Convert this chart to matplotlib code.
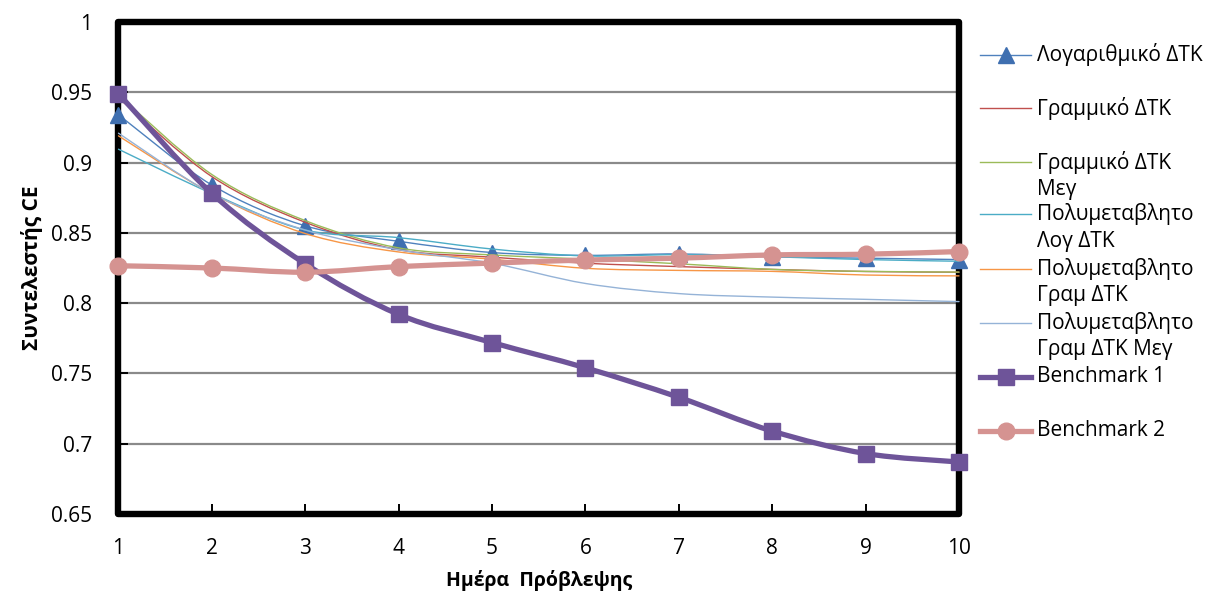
import numpy as np
import matplotlib.pyplot as plt
from matplotlib.path import Path
from matplotlib.patches import PathPatch, Rectangle
from matplotlib.lines import Line2D
from matplotlib.ticker import FuncFormatter

plt.rcParams['font.family'] = ['Open Sans', 'DejaVu Sans']

# --- Δεδομένα: συντελεστής CE ανά ημέρα πρόβλεψης ---
days = np.arange(1, 11)
log_dtk = [0.934, 0.884, 0.855, 0.844, 0.836, 0.834, 0.835, 0.833, 0.832, 0.831]
lin_dtk = [0.946, 0.890, 0.8575, 0.838, 0.8327, 0.8284, 0.826, 0.824, 0.8225, 0.822]
lin_dtk_big = [0.948, 0.8915, 0.8587, 0.8393, 0.8343, 0.8313, 0.828, 0.824, 0.8226, 0.8221]
multi_log = [0.9095, 0.878, 0.852, 0.8466, 0.8385, 0.8336, 0.8345, 0.833, 0.831, 0.8298]
multi_lin = [0.919, 0.878, 0.8495, 0.8364, 0.8313, 0.8248, 0.8233, 0.8226, 0.820, 0.8194]
multi_lin_big = [0.9209, 0.878, 0.852, 0.838, 0.8284, 0.814, 0.8068, 0.8043, 0.8027, 0.8011]
bench1 = [0.949, 0.878, 0.828, 0.792, 0.772, 0.754, 0.733, 0.709, 0.693, 0.687]
bench2 = [0.8266, 0.825, 0.822, 0.826, 0.8285, 0.8307, 0.832, 0.8343, 0.8348, 0.8367]

labels = ["Λογαριθμικό ΔΤΚ", "Γραμμικό ΔΤΚ", "Γραμμικό ΔΤΚ\nΜεγ",
          "Πολυμεταβλητο\nΛογ ΔΤΚ", "Πολυμεταβλητο\nΓραμ ΔΤΚ",
          "Πολυμεταβλητο\nΓραμ ΔΤΚ Μεγ", "Benchmark 1", "Benchmark 2"]

# (σειρά, χρώμα, πάχος, marker, χρώμα marker, μέγεθος marker)
series = [
    (log_dtk, "#4F81BD", 1.0, "^", "#3F6FB0", 11),
    (lin_dtk, "#C0504D", 1.0, None, None, 0),
    (lin_dtk_big, "#9BBB59", 1.0, None, None, 0),
    (multi_log, "#4BACC6", 1.0, None, None, 0),
    (multi_lin, "#F79646", 1.0, None, None, 0),
    (multi_lin_big, "#95B3D7", 1.0, None, None, 0),
    (bench1, "#6E5499", 3.8, "s", "#6E5499", 11),
    (bench2, "#D59391", 3.8, "o", "#D59391", 12),
]


def smooth_path(x, y, t=1 / 6):
    """Ομαλή καμπύλη Bezier μέσα από τα σημεία (όπως το smoothed line του Excel)."""
    pts = np.column_stack([x, y]).astype(float)
    n = len(pts)
    verts, codes = [pts[0]], [Path.MOVETO]
    for i in range(n - 1):
        p0 = pts[i - 1] if i > 0 else pts[i]
        p1, p2 = pts[i], pts[i + 1]
        p3 = pts[i + 2] if i + 2 < n else pts[i + 1]
        verts += [p1 + (p2 - p0) * t, p2 - (p3 - p1) * t, p2]
        codes += [Path.CURVE4] * 3
    return Path(verts, codes)


W, H = 1213, 598
fig = plt.figure(figsize=(W / 100, H / 100), dpi=100)
ax = fig.add_axes([118.5 / W, 1 - 514 / H, (959 - 118.5) / W, (514 - 22) / H])

ax.set_xlim(1, 10)
ax.set_ylim(0.65, 1.0)
ax.set_xticks(days)
ax.set_yticks(np.arange(0.65, 1.0001, 0.05))
ax.yaxis.set_major_formatter(FuncFormatter(lambda v, p: f"{v:.2f}".rstrip("0").rstrip(".")))
ax.yaxis.grid(True, color="#8A8A8A", lw=1.6)
ax.set_axisbelow(True)
for s in ax.spines.values():
    s.set_visible(False)
ax.add_patch(Rectangle((0, 0), 1, 1, transform=ax.transAxes, fill=False, ec="black",
                       lw=4.6, joinstyle="round", clip_on=False, zorder=2))
ax.tick_params(direction="in", length=7, width=1.4, color="black", labelsize=15)
ax.tick_params(axis="x", pad=17)
ax.tick_params(axis="y", pad=19)

z = 3
for vals, col, lw, mk, mcol, ms in series:
    ax.add_patch(PathPatch(smooth_path(days, vals), fill=False, ec=col, lw=lw,
                           capstyle="round", joinstyle="round", zorder=z, clip_on=False))
    if mk:
        ax.plot(days, vals, ls="none", marker=mk, ms=ms, color=mcol, mec=mcol,
                zorder=z + 0.5, clip_on=False)
    z += 1

ax.set_xlabel("Ημέρα  Πρόβλεψης", fontsize=14, fontweight="bold", labelpad=8)
ax.set_ylabel("Συντελεστής CE", fontsize=15, fontweight="bold", labelpad=6)

# --- Υπόμνημα: γραμμή στο ύψος της πρώτης γραμμής κειμένου ---
leg_y = [55, 108, 162, 214, 269, 323, 377, 431]
for (vals, col, lw, mk, mcol, ms), lab, yp in zip(series, labels, leg_y):
    yf = 1 - yp / H
    fig.add_artist(Line2D([980 / W, 1031 / W], [yf, yf], color=col,
                          lw=max(lw, 1.0), transform=fig.transFigure))
    if mk:
        fig.add_artist(Line2D([1005.5 / W], [yf], marker=mk, ms=ms, color=mcol,
                              transform=fig.transFigure))
    for k, line in enumerate(lab.split("\n")):
        fig.text(1037 / W, 1 - (yp + 27 * k) / H, line, fontsize=15,
                 va="center", ha="left", transform=fig.transFigure)

fig.savefig("out.png", dpi=100)
